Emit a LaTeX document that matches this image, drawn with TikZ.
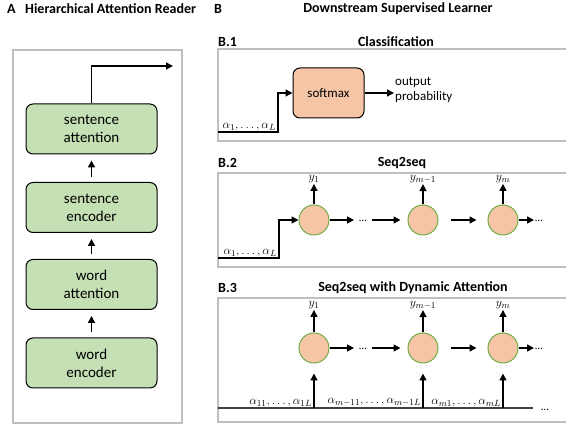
\documentclass[tikz,border=0pt]{standalone}
\usepackage{fontspec}
\setmainfont{Carlito}
\usetikzlibrary{arrows.meta}
\definecolor{boxgreen}{HTML}{C5E0B4}
\definecolor{peach}{HTML}{F6C5A5}
\definecolor{ringgreen}{HTML}{70AD47}
\definecolor{framegray}{HTML}{BFBFBF}
\definecolor{basegray}{HTML}{404040}
\tikzset{
  frame/.style={draw=framegray, line width=1.6pt},
  layer/.style={draw, line width=1pt, rounded corners=7pt, fill=boxgreen, minimum width=131pt, minimum height=50pt, align=center, font=\fontsize{15}{18}\selectfont},
  cell/.style={circle, draw=ringgreen, line width=1pt, fill=peach, minimum size=30pt, inner sep=0pt},
  arr/.style={line width=1.4pt, -{Triangle[length=7pt,width=7pt]}},
  head/.style={font=\fontsize{14}{16}\selectfont\bfseries},
  lbl/.style={font=\fontsize{13}{15}\selectfont, inner sep=1pt},
  gap/.style={font=\fontsize{11}{13}\selectfont, inner sep=1pt},
}
\begin{document}
\begin{tikzpicture}[x=1pt,y=-1pt]
\useasboundingbox (0,0) rectangle (566,425);

\node[head, anchor=west, inner sep=0pt] (tA) at (7,9) {A};
\node[head, anchor=west, inner sep=0pt] (tAname) at (25,9) {Hierarchical Attention Reader};
\draw[frame] (13,50) rectangle (182,423);
\node[layer] (sattn) at (91.5,129) {sentence\\attention};
\node[layer] (senc) at (91.5,207.5) {sentence\\encoder};
\node[layer] (wattn) at (91.5,284.5) {word\\attention};
\node[layer] (wenc) at (91.5,363) {word\\encoder};
\draw[arr, shorten <=5pt, shorten >=6pt] (wenc) -- (wattn);
\draw[arr, shorten <=5pt, shorten >=6pt] (wattn) -- (senc);
\draw[arr, shorten <=5pt, shorten >=6pt] (senc) -- (sattn);
\coordinate (aout) at (173,66);
\draw[arr] (sattn.north) |- (aout);

\node[head, anchor=west, inner sep=0pt] (tB) at (214,9) {B};
\node[head, inner sep=0pt] (tBname) at (398,9) {Downstream Supervised Learner};

\node[head, anchor=west, inner sep=0pt] (tB1) at (218,42) {B.1};
\node[head, inner sep=0pt] (tB1name) at (396,42) {Classification};
\draw[frame] (218,49) rectangle (580,141);
\node[draw, line width=1pt, rounded corners=7pt, fill=peach, minimum width=71pt, minimum height=50pt, font=\fontsize{13}{15}\selectfont] (soft) at (328.5,93) {softmax};
\coordinate (in1) at (218,132);
\draw[arr] (in1) -| (278,93) -- (soft.west);
\node[lbl, anchor=south east] (a1) at (277,132) {$\alpha_1,\dots,\alpha_L$};
\node[lbl, anchor=west, align=left] (outp) at (394,90) {output\\probability};
\draw[arr] (soft.east) -- (soft.east -| outp.west);

\node[head, anchor=west, inner sep=0pt] (tB2) at (218,163) {B.2};
\node[head, inner sep=0pt] (tB2name) at (402,163) {Seq2seq};
\draw[frame] (218,173) rectangle (580,267);
\node[cell] (c1) at (314,220) {};
\node[cell] (c2) at (423,220) {};
\node[cell] (c3) at (503,220) {};
\node[lbl] (y1) at (314,179) {$y_1$};
\node[lbl] (y2) at (423,179) {$y_{m-1}$};
\node[lbl] (y3) at (503,179) {$y_m$};
\draw[arr] (c1) -- (y1);
\draw[arr] (c2) -- (y2);
\draw[arr] (c3) -- (y3);
\node[gap] (g1) at (363,221) {\dots};
\node[gap, anchor=west] (g2) at (534,221) {\dots};
\draw[arr, shorten >=4pt] (c1.east) -- (c1.east -| g1.west);
\draw[arr, shorten <=4pt, shorten >=7pt] (c2.west -| g1.east) -- (c2.west);
\draw[arr, shorten <=12pt, shorten >=11pt] (c2.east) -- (c3.west);
\draw[arr] (c3.east) -- (c3.east -| g2.west);
\coordinate (in2) at (218,258);
\draw[arr] (in2) -| (279,220) -- (c1);
\node[lbl, anchor=south east] (a2) at (278,258) {$\alpha_1,\dots,\alpha_L$};

\node[head, anchor=west, inner sep=0pt] (tB3) at (218,288) {B.3};
\node[head, inner sep=0pt] (tB3name) at (413,288) {Seq2seq with Dynamic Attention};
\draw[frame] (218,298) rectangle (580,422);
\node[cell] (e1) at (314,348) {};
\node[cell] (e2) at (423,348) {};
\node[cell] (e3) at (503,348) {};
\node[lbl] (z1) at (314,305) {$y_1$};
\node[lbl] (z2) at (423,305) {$y_{m-1}$};
\node[lbl] (z3) at (503,305) {$y_m$};
\draw[arr] (e1) -- (z1);
\draw[arr] (e2) -- (z2);
\draw[arr] (e3) -- (z3);
\node[gap] (h1) at (363,349) {\dots};
\node[gap, anchor=west] (h2) at (534,349) {\dots};
\draw[arr, shorten >=4pt] (e1.east) -- (e1.east -| h1.west);
\draw[arr, shorten <=4pt, shorten >=7pt] (e2.west -| h1.east) -- (e2.west);
\draw[arr, shorten <=12pt, shorten >=11pt] (e2.east) -- (e3.west);
\draw[arr] (e3.east) -- (e3.east -| h2.west);
\coordinate (base0) at (218,408);
\coordinate (base1) at (533,408);
\draw[basegray, line width=1.6pt] (base0) -- (base1);
\node[gap, anchor=west] (h3) at (540,410) {\dots};
\draw[arr, shorten >=10pt] (e1 |- base0) -- (e1);
\draw[arr, shorten >=10pt] (e2 |- base0) -- (e2);
\draw[arr, shorten >=10pt] (e3 |- base0) -- (e3);
\node[lbl, anchor=south east] (b1) at (313,408) {$\alpha_{11},\dots,\alpha_{1L}$};
\node[lbl, anchor=south east] (b2) at (422,408) {$\alpha_{m-11},\dots,\alpha_{m-1L}$};
\node[lbl, anchor=south east] (b3) at (502,408) {$\alpha_{m1},\dots,\alpha_{mL}$};
\end{tikzpicture}
\end{document}
